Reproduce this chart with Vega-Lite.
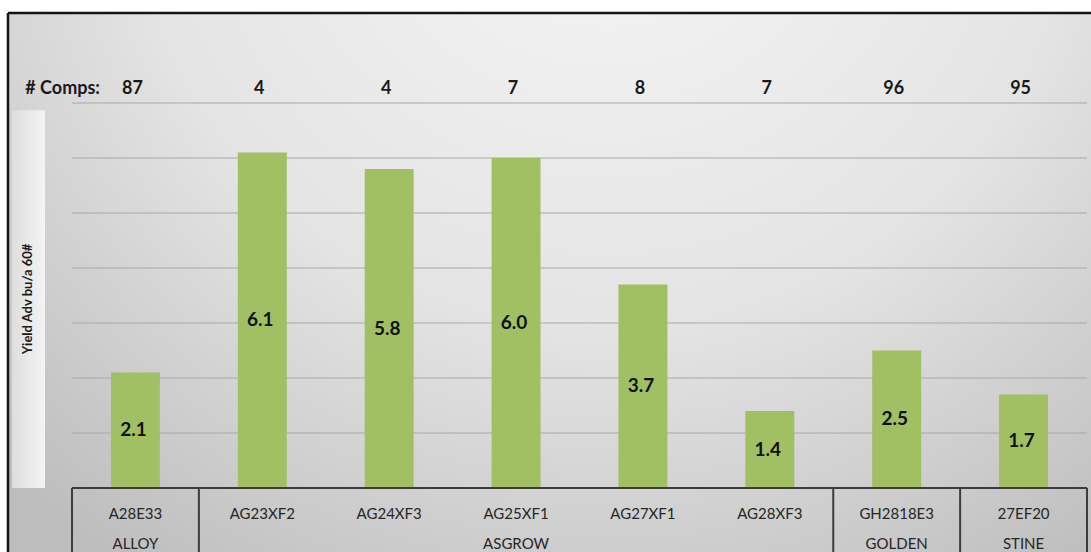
{
  "$schema": "https://vega.github.io/schema/vega-lite/v6.json",
  "width": 1083,
  "height": 539,
  "autosize": "none",
  "padding": {"left": 8, "top": 13, "right": 0, "bottom": 0},
  "background": "#ffffff",
  "config": {
    "font": "Lato",
    "view": {
      "fill": {
        "gradient": "radial",
        "x1": 0.55, "y1": 0.1, "r1": 0,
        "x2": 0.55, "y2": 0.1, "r2": 0.8,
        "stops": [
          {"offset": 0, "color": "#f7f7f7"},
          {"offset": 0.55, "color": "#e4e4e4"},
          {"offset": 1, "color": "#bdbdbd"}
        ]
      },
      "stroke": null
    }
  },
  "datasets": {
    "hybrids": [
      {"hybrid": "A28E33", "brand": "ALLOY", "comps": 87, "yield": 2.1},
      {"hybrid": "AG23XF2", "brand": "ASGROW", "comps": 4, "yield": 6.1},
      {"hybrid": "AG24XF3", "brand": "ASGROW", "comps": 4, "yield": 5.8},
      {"hybrid": "AG25XF1", "brand": "ASGROW", "comps": 7, "yield": 6.0},
      {"hybrid": "AG27XF1", "brand": "ASGROW", "comps": 8, "yield": 3.7},
      {"hybrid": "AG28XF3", "brand": "ASGROW", "comps": 7, "yield": 1.4},
      {"hybrid": "GH2818E3", "brand": "GOLDEN", "comps": 96, "yield": 2.5},
      {"hybrid": "27EF20", "brand": "STINE", "comps": 95, "yield": 1.7}
    ],
    "brands": [
      {"brand": "ALLOY", "first": "A28E33", "middle": "A28E33"},
      {"brand": "ASGROW", "first": "AG23XF2", "middle": "AG25XF1"},
      {"brand": "GOLDEN", "first": "GH2818E3", "middle": "GH2818E3"},
      {"brand": "STINE", "first": "27EF20", "middle": "27EF20"}
    ],
    "grid": [{"v": 1}, {"v": 2}, {"v": 3}, {"v": 4}, {"v": 5}, {"v": 6}, {"v": 7}]
  },
  "layer": [
    {
      "layer": [
        {
          "data": {"name": "grid"},
          "mark": {"type": "rule", "color": "#a8a8a8", "strokeWidth": 1},
          "encoding": {
            "x": {"datum": "A28E33", "type": "nominal", "bandPosition": 0,
                  "scale": {"type": "band", "domain": ["A28E33", "AG23XF2", "AG24XF3", "AG25XF1", "AG27XF1", "AG28XF3", "GH2818E3", "27EF20"], "range": [64, 1079], "paddingInner": 0, "paddingOuter": 0},
                  "axis": null},
            "x2": {"datum": "27EF20", "bandPosition": 1},
            "y": {"field": "v", "type": "quantitative",
                  "scale": {"domain": [-1.1636, 8.6364], "nice": false, "zero": false}, "axis": null}
          }
        },
        {
          "data": {"values": [{}]},
          "mark": {"type": "rule", "color": "#141414", "strokeWidth": 2.5},
          "encoding": {
            "y": {"datum": 8.6364, "type": "quantitative",
                  "scale": {"domain": [-1.1636, 8.6364], "nice": false, "zero": false}, "axis": null}
          }
        },
        {
          "data": {"values": [{}]},
          "mark": {"type": "rule", "color": "#141414", "strokeWidth": 2.5},
          "encoding": {
            "x": {"value": 0}
          }
        },
        {
          "data": {"values": [{}]},
          "mark": {
            "type": "rect",
            "color": {
              "gradient": "linear", "x1": 0, "y1": 0, "x2": 1, "y2": 0,
              "stops": [{"offset": 0, "color": "#dedede"}, {"offset": 1, "color": "#f4f4f4"}]
            }
          },
          "encoding": {
            "x": {"value": 4},
            "x2": {"value": 37},
            "y": {"datum": 6.87, "type": "quantitative",
                  "scale": {"domain": [-1.1636, 8.6364], "nice": false, "zero": false}, "axis": null},
            "y2": {"datum": 0}
          }
        },
        {
          "data": {"values": [{}]},
          "mark": {"type": "text", "text": "Yield Adv bu/a 60#", "angle": 270, "fontSize": 13, "fontWeight": "bold", "color": "#1a1a1a", "align": "center", "baseline": "middle"},
          "encoding": {
            "x": {"value": 20},
            "y": {"datum": 3.436, "type": "quantitative",
                  "scale": {"domain": [-1.1636, 8.6364], "nice": false, "zero": false}, "axis": null}
          }
        },
        {
          "data": {"name": "hybrids"},
          "mark": {"type": "bar", "width": {"band": 0.386}, "color": "#a1c064"},
          "encoding": {
            "x": {"field": "hybrid", "type": "nominal",
                  "scale": {"type": "band", "domain": ["A28E33", "AG23XF2", "AG24XF3", "AG25XF1", "AG27XF1", "AG28XF3", "GH2818E3", "27EF20"], "range": [64, 1079], "paddingInner": 0, "paddingOuter": 0},
                  "axis": null},
            "y": {"field": "yield", "type": "quantitative",
                  "scale": {"domain": [-1.1636, 8.6364], "nice": false, "zero": false}, "axis": null}
          }
        },
        {
          "data": {"values": [{}]},
          "mark": {"type": "rule", "color": "#3c3c3c", "strokeWidth": 2},
          "encoding": {
            "x": {"datum": "A28E33", "type": "nominal", "bandPosition": 0,
                  "scale": {"type": "band", "domain": ["A28E33", "AG23XF2", "AG24XF3", "AG25XF1", "AG27XF1", "AG28XF3", "GH2818E3", "27EF20"], "range": [64, 1079], "paddingInner": 0, "paddingOuter": 0},
                  "axis": null},
            "x2": {"datum": "27EF20", "bandPosition": 1},
            "y": {"datum": 0, "type": "quantitative",
                  "scale": {"domain": [-1.1636, 8.6364], "nice": false, "zero": false}, "axis": null}
          }
        },
        {
          "data": {"name": "brands"},
          "mark": {"type": "rule", "color": "#3c3c3c", "strokeWidth": 2},
          "encoding": {
            "x": {"field": "first", "type": "nominal", "bandPosition": 0,
                  "scale": {"type": "band", "domain": ["A28E33", "AG23XF2", "AG24XF3", "AG25XF1", "AG27XF1", "AG28XF3", "GH2818E3", "27EF20"], "range": [64, 1079], "paddingInner": 0, "paddingOuter": 0},
                  "axis": null},
            "y": {"datum": 0, "type": "quantitative",
                  "scale": {"domain": [-1.1636, 8.6364], "nice": false, "zero": false}, "axis": null},
            "y2": {"datum": -1.4}
          }
        },
        {
          "data": {"values": [{}]},
          "mark": {"type": "rule", "color": "#3c3c3c", "strokeWidth": 2},
          "encoding": {
            "x": {"datum": "27EF20", "type": "nominal", "bandPosition": 1,
                  "scale": {"type": "band", "domain": ["A28E33", "AG23XF2", "AG24XF3", "AG25XF1", "AG27XF1", "AG28XF3", "GH2818E3", "27EF20"], "range": [64, 1079], "paddingInner": 0, "paddingOuter": 0},
                  "axis": null},
            "y": {"datum": 0, "type": "quantitative",
                  "scale": {"domain": [-1.1636, 8.6364], "nice": false, "zero": false}, "axis": null},
            "y2": {"datum": -1.4}
          }
        },
        {
          "data": {"values": [{}]},
          "mark": {"type": "text", "text": "# Comps:", "fontSize": 18, "fontWeight": "bold", "color": "#1a1a1a", "align": "right", "baseline": "middle", "dx": 28},
          "encoding": {
            "x": {"datum": "A28E33", "type": "nominal", "bandPosition": 0,
                  "scale": {"type": "band", "domain": ["A28E33", "AG23XF2", "AG24XF3", "AG25XF1", "AG27XF1", "AG28XF3", "GH2818E3", "27EF20"], "range": [64, 1079], "paddingInner": 0, "paddingOuter": 0},
                  "axis": null},
            "y": {"datum": 7.26, "type": "quantitative",
                  "scale": {"domain": [-1.1636, 8.6364], "nice": false, "zero": false}, "axis": null}
          }
        },
        {
          "data": {"name": "hybrids"},
          "mark": {"type": "text", "fontSize": 18, "fontWeight": "bold", "color": "#1a1a1a", "baseline": "middle", "dx": -3},
          "encoding": {
            "x": {"field": "hybrid", "type": "nominal",
                  "scale": {"type": "band", "domain": ["A28E33", "AG23XF2", "AG24XF3", "AG25XF1", "AG27XF1", "AG28XF3", "GH2818E3", "27EF20"], "range": [64, 1079], "paddingInner": 0, "paddingOuter": 0},
                  "axis": null},
            "y": {"datum": 7.26, "type": "quantitative",
                  "scale": {"domain": [-1.1636, 8.6364], "nice": false, "zero": false}, "axis": null},
            "text": {"field": "comps", "type": "quantitative"}
          }
        },
        {
          "data": {"name": "hybrids"},
          "mark": {"type": "text", "fontSize": 15, "color": "#262626", "baseline": "alphabetic"},
          "encoding": {
            "x": {"field": "hybrid", "type": "nominal",
                  "scale": {"type": "band", "domain": ["A28E33", "AG23XF2", "AG24XF3", "AG25XF1", "AG27XF1", "AG28XF3", "GH2818E3", "27EF20"], "range": [64, 1079], "paddingInner": 0, "paddingOuter": 0},
                  "axis": null},
            "y": {"datum": -0.5636, "type": "quantitative",
                  "scale": {"domain": [-1.1636, 8.6364], "nice": false, "zero": false}, "axis": null},
            "text": {"field": "hybrid", "type": "nominal"}
          }
        },
        {
          "data": {"name": "brands"},
          "mark": {"type": "text", "fontSize": 15, "color": "#262626", "baseline": "alphabetic"},
          "encoding": {
            "x": {"field": "middle", "type": "nominal",
                  "scale": {"type": "band", "domain": ["A28E33", "AG23XF2", "AG24XF3", "AG25XF1", "AG27XF1", "AG28XF3", "GH2818E3", "27EF20"], "range": [64, 1079], "paddingInner": 0, "paddingOuter": 0},
                  "axis": null},
            "y": {"datum": -1.1, "type": "quantitative",
                  "scale": {"domain": [-1.1636, 8.6364], "nice": false, "zero": false}, "axis": null},
            "text": {"field": "brand", "type": "nominal"}
          }
        }
      ]
    },
    {
      "data": {"name": "hybrids"},
      "mark": {"type": "text", "fontSize": 19, "fontWeight": "bold", "color": "#111111", "baseline": "middle", "dx": -2},
      "encoding": {
        "x": {"field": "hybrid", "type": "nominal",
              "scale": {"type": "band", "domain": ["A28E33", "AG23XF2", "AG24XF3", "AG25XF1", "AG27XF1", "AG28XF3", "GH2818E3", "27EF20"], "range": [64, 1079], "paddingInner": 0, "paddingOuter": 0},
              "axis": null},
        "y": {"field": "yield", "type": "quantitative",
              "scale": {"domain": [-2.3272, 17.2728], "nice": false, "zero": false}, "axis": null},
        "text": {"field": "yield", "type": "quantitative", "format": ".1f"}
      }
    }
  ],
  "resolve": {"scale": {"y": "independent"}}
}
